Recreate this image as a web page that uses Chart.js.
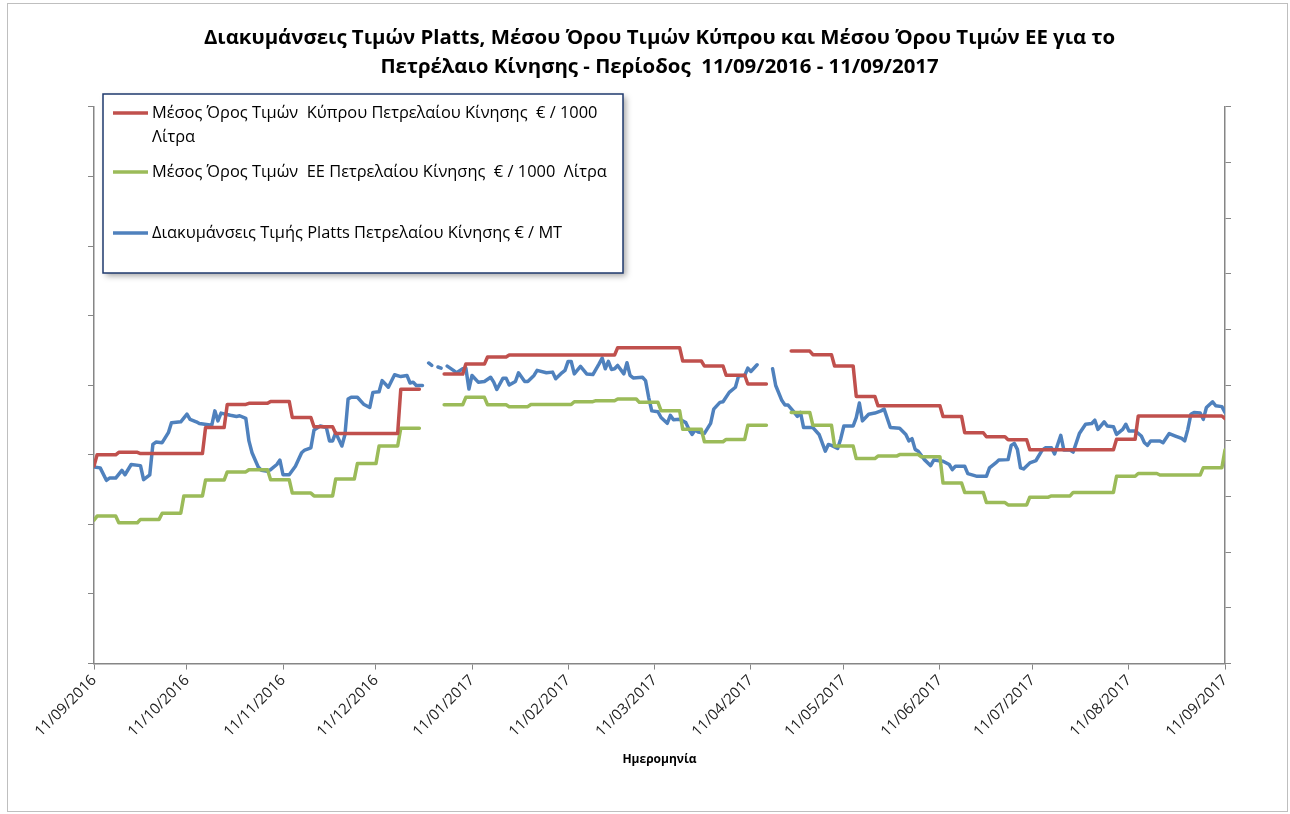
<!DOCTYPE html>
<html>
<head>
<meta charset="utf-8">
<script src="https://cdn.jsdelivr.net/npm/chart.js@4.4.1/dist/chart.umd.min.js"></script>
<style>
  html, body { margin: 0; padding: 0; background: #fff; }
  #wrap { position: relative; width: 1290px; height: 814px; }
  #frame { position: absolute; left: 7px; top: 3px; width: 1279px; height: 807px; border: 1px solid #bfbfbf; }
  #chart { position: absolute; left: 0; top: 0; }
</style>
</head>
<body>
<div id="wrap">
  <div id="frame"></div>
  <canvas id="chart" width="1290" height="814"></canvas>
</div>
<script>
// x values are days counted from 11/09/2016
const tickDays = [0, 30, 61, 91, 122, 153, 181, 212, 242, 273, 303, 334, 365];
const tickLabels = ['11/09/2016', '11/10/2016', '11/11/2016', '11/12/2016', '11/01/2017', '11/02/2017',
  '11/03/2017', '11/04/2017', '11/05/2017', '11/06/2017', '11/07/2017', '11/08/2017', '11/09/2017'];

// weekly prices (€ / 1000 L), first week starts on day -6, then every 7 days
const firstWeekStart = -6;
const cyprusWeekly = [442.0,
  450.0, 451.8, 450.9, 450.9, 450.9, 469.6, 486.2, 487.0, 488.4, 476.8,
  470.2, 465.4, 465.4, 465.4, 497.1, null, 508.0, 515.2, 520.3, 521.7,
  521.7, 521.7, 521.7, 521.7, 527.0, 527.0, 527.0, 517.4, 513.8, 507.2,
  500.9, null, 524.6, 522.0, 513.8, 492.0, 485.3, 485.3, 485.3, 477.5,
  465.9, 463.0, 460.9, 453.6, 453.6, 453.6, 453.6, 461.2, 477.9, 477.9,
  477.9, 477.9, 476.1];
const euWeekly = [403.1,
  406.0, 401.2, 403.6, 408.0, 420.5, 431.9, 437.7, 439.3, 432.1, 422.5,
  420.5, 432.6, 443.7, 456.3, 469.1, null, 486.0, 491.3, 486.0, 484.6,
  486.2, 486.2, 488.2, 488.9, 490.1, 487.7, 481.7, 468.3, 459.4, 461.1,
  471.2, null, 480.4, 471.2, 456.3, 447.3, 449.1, 450.2, 448.6, 429.7,
  423.0, 415.7, 414.0, 419.6, 420.5, 423.0, 423.0, 434.6, 436.6, 435.5,
  435.5, 440.8, 453.4];

// Platts diesel € / MT
const plattsDays = [0, 2, 4, 5, 7, 9, 10, 12, 15, 16, 18, 19, 20, 22, 24, 25, 28, 30, 31, 33,
  34, 38, 39, 40, 41, 44, 46, 47, 49, 50, 51, 53, 54, 56, 57, 59, 60, 61, 63, 65,
  67, 68, 70, 71, 73, 75, 76, 77, 78, 79, 80, 81, 82, 83, 85, 87, 89, 90, 92, 93,
  95, 97, 99, 101, 102, 103, 104, 106, 107, 108, 109, 110, 111, 112, 113, 114, 116, 117, 119, 120,
  121, 122, 124, 126, 128, 129, 130, 132, 133, 134, 136, 137, 139, 140, 142, 143, 146, 148, 149, 151,
  152, 153, 154, 155, 157, 159, 161, 163, 164, 165, 166, 167, 168, 169, 171, 172, 173, 174, 177, 178,
  179, 180, 182, 183, 185, 186, 187, 189, 191, 192, 193, 194, 195, 197, 199, 200, 202, 203, 205, 207,
  208, 210, 211, 212, 214, 216, 219, 220, 222, 223, 224, 226, 227, 228, 229, 232, 234, 236, 237, 238,
  240, 241, 242, 245, 246, 247, 248, 250, 252, 254, 255, 257, 260, 262, 263, 264, 265, 266, 268, 270,
  271, 274, 276, 277, 278, 281, 282, 285, 288, 289, 291, 292, 295, 296, 297, 298, 299, 300, 302, 304,
  306, 307, 309, 310, 311, 312, 313, 315, 316, 318, 320, 322, 323, 324, 326, 327, 329, 330, 332, 333,
  334, 336, 338, 339, 340, 341, 344, 345, 347, 349, 351, 352, 353, 354, 355, 357, 358, 359, 361, 362,
  364, 365];
const plattsValues = [388.3, 387.9, 382.3, 383.3, 383.3, 386.8, 384.8, 389.4, 388.9, 382.6, 384.8, 398.4, 399.5, 399.2, 403.7, 408.2, 408.6, 412.0, 409.7, 408.6,
  407.8, 407.0, 413.5, 409.0, 412.5, 411.5, 411.0, 411.3, 410.1, 400.0, 394.7, 388.3, 386.8, 386.4, 387.1, 389.4, 391.4, 384.8, 384.8, 388.6,
  394.7, 395.9, 396.9, 404.9, 406.7, 406.0, 400.0, 400.0, 403.7, 400.7, 397.7, 402.9, 418.8, 419.6, 419.6, 416.5, 415.0, 421.8, 422.1, 427.1,
  424.1, 429.7, 428.9, 429.4, 426.0, 426.4, 424.9, 424.9, null, 435.0, 433.9, null, 433.2, 432.7, null, 433.6, 431.7, 430.6, 432.4, 432.7,
  423.3, 429.4, 426.4, 426.7, 428.6, 426.4, 423.1, 428.2, 428.2, 425.1, 426.7, 430.6, 426.7, 426.7, 429.4, 431.7, 430.6, 430.9, 427.9, 430.6,
  431.7, 435.7, 435.7, 430.1, 433.5, 430.1, 429.8, 434.6, 437.2, 432.4, 435.7, 432.1, 432.4, 433.9, 430.1, 435.1, 429.4, 428.3, 428.6, 427.1,
  419.6, 413.5, 413.1, 410.5, 407.9, 411.5, 409.5, 409.7, 408.2, 405.2, 402.9, 404.9, 404.0, 403.4, 407.9, 414.3, 417.3, 417.6, 421.8, 424.1,
  429.1, 429.4, 432.7, 431.2, 434.2, null, 432.4, 424.9, 418.1, 416.1, 416.1, 412.8, 411.0, 412.8, 406.0, 406.0, 402.9, 395.4, 398.4, 398.0,
  396.6, 401.0, 406.7, 406.7, 410.5, 417.0, 409.0, 412.0, 412.5, 413.5, 414.3, 406.0, 405.7, 402.9, 400.0, 401.0, 396.2, 395.4, 391.6, 388.9,
  391.4, 390.9, 389.4, 387.1, 388.6, 388.6, 385.3, 384.1, 384.1, 387.9, 390.1, 391.4, 391.6, 398.0, 398.9, 396.2, 387.9, 387.4, 390.1, 391.2,
  395.9, 396.9, 396.9, 394.2, 398.4, 402.5, 395.9, 395.9, 395.0, 403.3, 407.5, 407.8, 409.3, 405.2, 408.6, 406.7, 406.4, 402.9, 405.2, 407.5,
  404.5, 404.5, 402.2, 399.2, 398.0, 400.0, 400.0, 399.2, 403.3, 402.2, 401.1, 400.0, 405.2, 412.0, 412.8, 412.5, 409.7, 415.0, 417.6, 415.8,
  415.4, 412.8];

const labelCyprus = 'Μέσος Όρος Τιμών  Κύπρου Πετρελαίου Κίνησης  € / 1000\nΛίτρα';
const labelEu = 'Μέσος Όρος Τιμών  ΕΕ Πετρελαίου Κίνησης  € / 1000  Λίτρα';
const labelPlatts = 'Διακυμάνσεις Τιμής Platts Πετρελαίου Κίνησης € / MT';

function dailyFromWeekly(weekly) {
  const pts = [];
  for (let d = 0; d <= 365; d++) {
    const w = Math.floor((d - firstWeekStart) / 7);
    pts.push({ x: d, y: weekly[w] });
  }
  return pts;
}

const plattsPoints = plattsDays.map((d, i) => ({ x: d, y: plattsValues[i] }));

const FONT = '"Open Sans", "Noto Sans", "DejaVu Sans", sans-serif';
const AXIS_GREY = '#868686';

// legend box drawn by hand, Excel style
const boxLegend = {
  id: 'boxLegend',
  afterDraw(chart) {
    const ctx = chart.ctx;
    const bx = 103, by = 94, bw = 520, bh = 179;
    ctx.save();
    ctx.shadowColor = 'rgba(0,0,0,0.35)';
    ctx.shadowBlur = 6;
    ctx.shadowOffsetX = 3;
    ctx.shadowOffsetY = 3;
    ctx.fillStyle = '#fff';
    ctx.fillRect(bx, by, bw, bh);
    ctx.restore();

    ctx.save();
    ctx.strokeStyle = '#1f3a6e';
    ctx.lineWidth = 1.5;
    ctx.strokeRect(bx, by, bw, bh);

    const rows = [113, 172, 233];
    ctx.font = '16.4px ' + FONT;
    ctx.textBaseline = 'middle';
    ctx.fillStyle = '#000';
    chart.data.datasets.forEach((ds, i) => {
      const y = rows[i];
      ctx.strokeStyle = ds.borderColor;
      ctx.lineWidth = 3.5;
      ctx.beginPath();
      ctx.moveTo(113, y);
      ctx.lineTo(148, y);
      ctx.stroke();
      ds.label.split('\n').forEach((line, j) => {
        ctx.fillText(line, 152, y + j * 24);
      });
    });
    ctx.restore();
  }
};

new Chart(document.getElementById('chart'), {
  type: 'line',
  data: {
    datasets: [{
      label: labelCyprus,
      data: dailyFromWeekly(cyprusWeekly),
      borderColor: '#c0504d',
      yAxisID: 'y'
    }, {
      label: labelEu,
      data: dailyFromWeekly(euWeekly),
      borderColor: '#9bbb59',
      yAxisID: 'y'
    }, {
      label: labelPlatts,
      data: plattsPoints,
      borderColor: '#4f81bd',
      yAxisID: 'y1'
    }]
  },
  options: {
    responsive: false,
    animation: false,
    spanGaps: false,
    elements: {
      point: { radius: 0 },
      line: { borderWidth: 3.5, tension: 0, borderCapStyle: 'round', borderJoinStyle: 'round' }
    },
    layout: {
      padding: { left: 88, right: 59, top: 0, bottom: 47 }
    },
    plugins: {
      legend: { display: false },
      tooltip: { enabled: false },
      title: {
        display: true,
        text: ['Διακυμάνσεις Τιμών Platts, Μέσου Όρου Τιμών Κύπρου και Μέσου Όρου Τιμών ΕΕ για το',
          'Πετρέλαιο Κίνησης - Περίοδος  11/09/2016 - 11/09/2017'],
        color: '#000',
        font: { family: FONT, size: 20.4, weight: 'bold', lineHeight: 1.42 },
        padding: { top: 23.5, bottom: 25.5 }
      }
    },
    scales: {
      x: {
        type: 'linear',
        min: 0,
        max: 365,
        afterBuildTicks: (scale) => {
          scale.ticks = tickDays.map(v => ({ value: v }));
        },
        ticks: {
          autoSkip: false,
          maxRotation: 45,
          minRotation: 45,
          color: '#222',
          font: { family: FONT, size: 15 },
          padding: 2,
          callback: (value, index) => tickLabels[index]
        },
        grid: { drawOnChartArea: false, drawTicks: true, tickLength: 6, color: AXIS_GREY },
        border: { color: AXIS_GREY, width: 1.5 },
        title: {
          display: true,
          text: 'Ημερομηνία',
          color: '#000',
          font: { family: FONT, size: 12, weight: 'bold' },
          padding: { top: 10, bottom: 0 }
        }
      },
      y: {
        position: 'left',
        min: 300,
        max: 700,
        ticks: { display: false, stepSize: 50 },
        grid: { drawOnChartArea: false, drawTicks: true, tickLength: 6, color: AXIS_GREY },
        border: { color: AXIS_GREY, width: 1.5 }
      },
      y1: {
        position: 'right',
        min: 300,
        max: 550,
        ticks: { display: false, stepSize: 25 },
        grid: { drawOnChartArea: false, drawTicks: true, tickLength: 6, color: AXIS_GREY },
        border: { color: AXIS_GREY, width: 1.5 }
      }
    }
  },
  plugins: [boxLegend]
});
</script>
</body>
</html>
